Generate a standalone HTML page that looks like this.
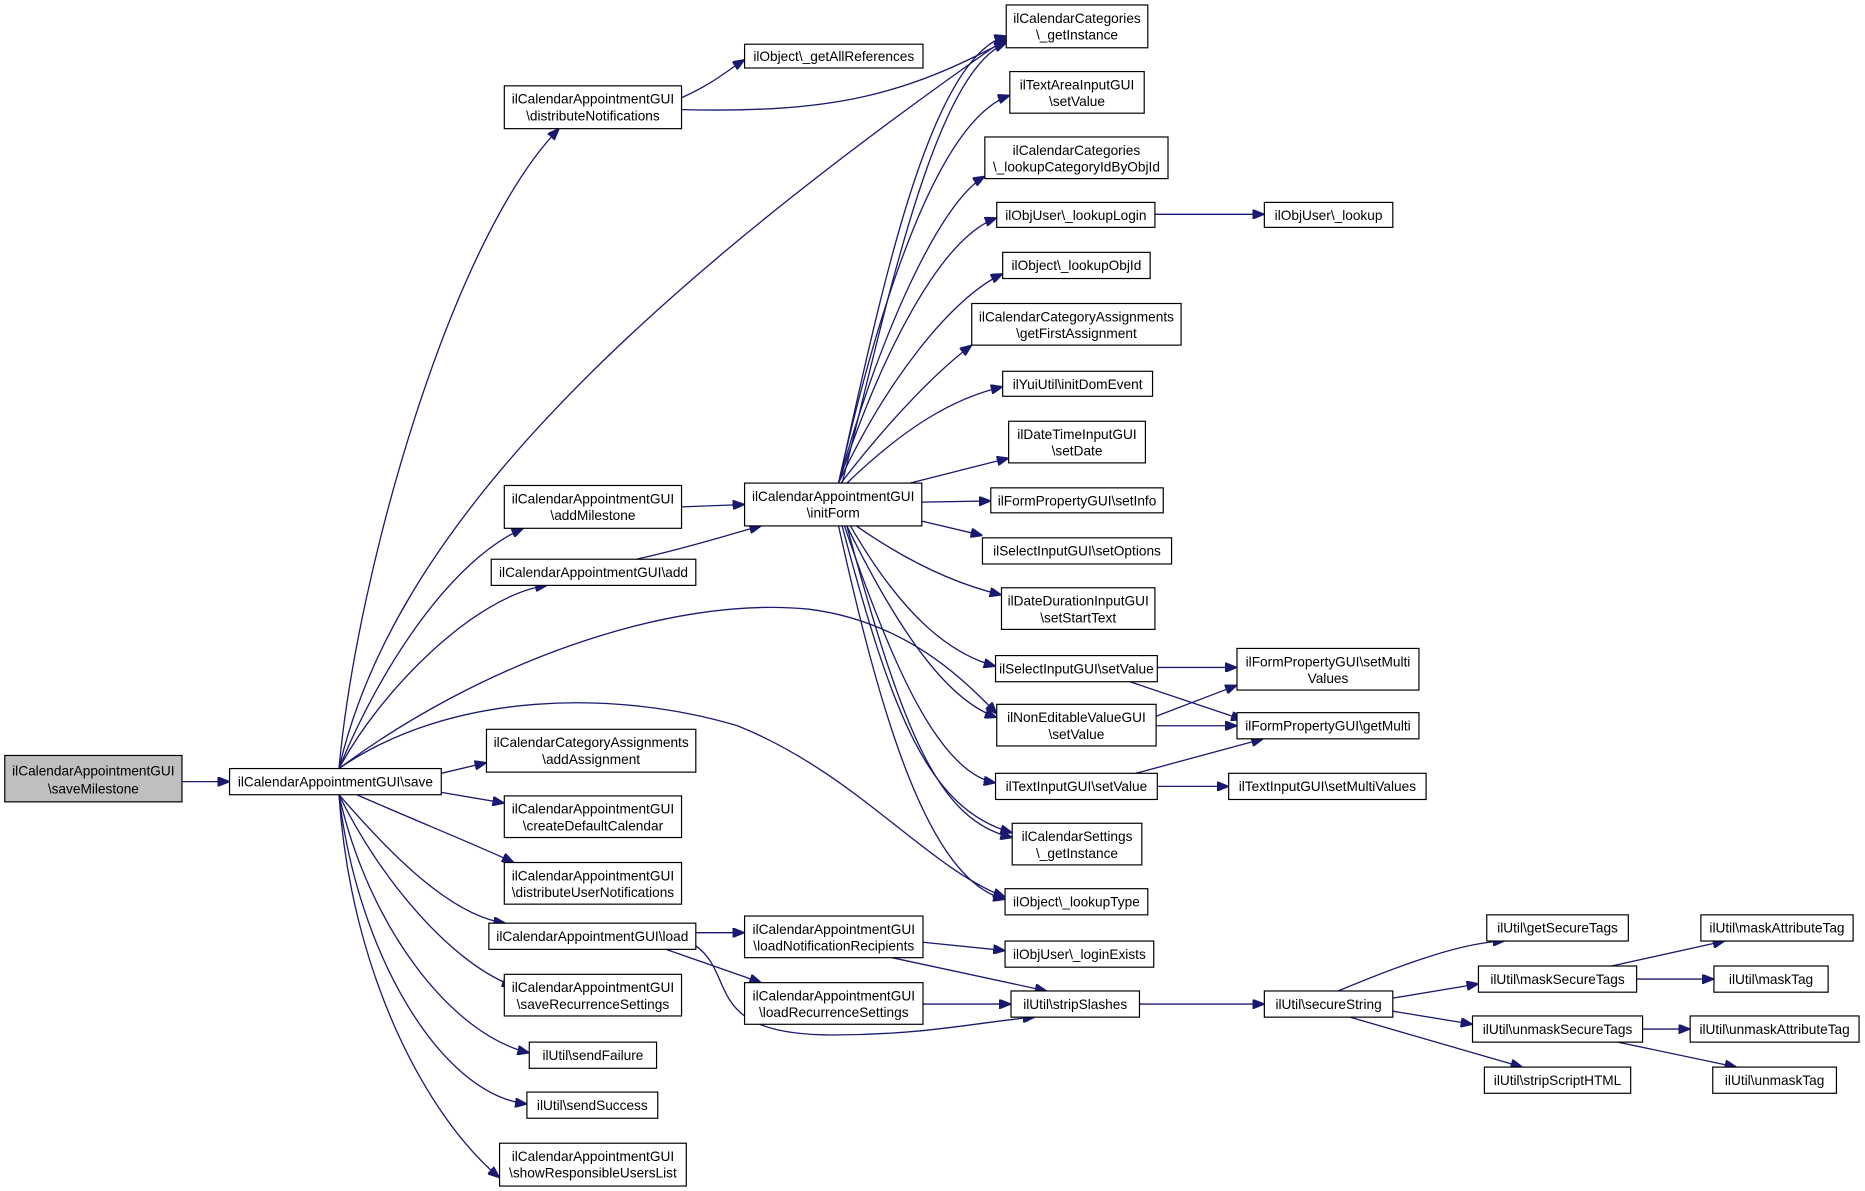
<!DOCTYPE html>
<html><head><meta charset="utf-8"><style>
html,body{margin:0;padding:0;background:#fff;}
svg{display:block}
text{font-family:"Liberation Sans",sans-serif;font-size:11.5px;fill:#000;text-anchor:middle}
rect{fill:#fff;stroke:#000;stroke-width:1}
path{fill:none;stroke:#191970;stroke-width:1.1}
</style></head><body>
<svg width="1865" height="1191" viewBox="0 0 1568 1001" xmlns="http://www.w3.org/2000/svg">
<defs><marker id="a" markerWidth="10" markerHeight="8" refX="10" refY="4" orient="auto" markerUnits="userSpaceOnUse"><path d="M0,0 L10,4 L0,8 Z" style="fill:#191970;stroke:#191970"/></marker></defs>
<g marker-end="url(#a)">
<path d="M153,657 L193,657"/>
<path d="M285,646 C300,480 380,200 470,108"/>
<path d="M285,646 C330,450 520,260 846,32"/>
<path d="M285,646 C320,560 380,470 440,444"/>
<path d="M285,646 C320,580 400,500 460,492"/>
<path d="M285,646 C400,560 560,500 680,512 C760,522 810,570 838,600"/>
<path d="M285,646 C380,580 520,580 620,610 C720,650 780,730 845,754"/>
<path d="M371,650 L409,641"/>
<path d="M371,666 L424,675"/>
<path d="M300,668 C350,690 400,710 432,725"/>
<path d="M285,668 C330,720 380,770 425,776"/>
<path d="M285,668 C320,740 380,810 432,829"/>
<path d="M285,668 C310,780 380,870 445,885"/>
<path d="M285,668 C300,800 370,920 443,928"/>
<path d="M285,668 C295,820 360,940 420,990"/>
<path d="M573,82 C600,70 610,60 626,50"/>
<path d="M573,92 C700,95 760,80 846,34"/>
<path d="M573,426 L626,424"/>
<path d="M535,470 C580,460 610,450 640,442"/>
<path d="M705,406 C740,250 780,50 846,30"/>
<path d="M708,406 C745,260 785,60 846,36"/>
<path d="M705,406 C740,250 790,100 849,80"/>
<path d="M705,406 C740,280 790,170 828,148"/>
<path d="M705,406 C740,300 790,200 838,183"/>
<path d="M705,406 C745,320 800,250 843,230"/>
<path d="M707,406 C750,350 790,310 817,290"/>
<path d="M712,406 C760,360 800,335 843,325"/>
<path d="M765,406 L848,385"/>
<path d="M775,422 L833,421"/>
<path d="M775,438 L826,450"/>
<path d="M720,442 C760,470 800,490 842,500"/>
<path d="M715,442 C760,520 800,550 837,560"/>
<path d="M712,442 C760,540 800,590 838,603"/>
<path d="M710,442 C750,560 790,650 837,658"/>
<path d="M708,442 C750,600 780,680 851,700"/>
<path d="M712,442 C760,620 790,690 851,704"/>
<path d="M705,442 C740,600 780,740 845,756"/>
<path d="M971,180 L1063,180"/>
<path d="M973,561 L1040,561"/>
<path d="M950,573 L1045,605"/>
<path d="M972,602 L1040,576"/>
<path d="M972,610 L1040,610"/>
<path d="M955,650 L1062,621"/>
<path d="M973,661 L1033,661"/>
<path d="M585,784 L626,784"/>
<path d="M560,798 L640,826"/>
<path d="M585,795 C620,820 590,870 700,870 C780,870 830,858 870,855"/>
<path d="M776,792 L845,799"/>
<path d="M750,805 L880,833"/>
<path d="M776,844 L850,844"/>
<path d="M958,844 L1063,844"/>
<path d="M1125,833 C1180,810 1230,792 1265,791"/>
<path d="M1171,839 L1243,827"/>
<path d="M1171,850 L1238,861"/>
<path d="M1135,855 L1280,897"/>
<path d="M1355,812 L1450,791"/>
<path d="M1376,823 L1441,823"/>
<path d="M1381,865 L1421,865"/>
<path d="M1360,876 L1460,897"/>
</g>
<rect x="4" y="635" width="149" height="39" style="fill:#bfbfbf"/><text x="78.5" y="652">ilCalendarAppointmentGUI</text><text x="78.5" y="667">\saveMilestone</text>
<rect x="193" y="646" width="178" height="22"/><text x="282" y="661">ilCalendarAppointmentGUI\save</text>
<rect x="424" y="72" width="149" height="36"/><text x="498.5" y="87">ilCalendarAppointmentGUI</text><text x="498.5" y="101">\distributeNotifications</text>
<rect x="626" y="37" width="150" height="20"/><text x="701" y="51">ilObject\_getAllReferences</text>
<rect x="846" y="4" width="119" height="36"/><text x="905.5" y="19">ilCalendarCategories</text><text x="905.5" y="33">\_getInstance</text>
<rect x="849" y="60" width="113" height="35"/><text x="905.5" y="75">ilTextAreaInputGUI</text><text x="905.5" y="89">\setValue</text>
<rect x="828" y="115" width="154" height="35"/><text x="905" y="130">ilCalendarCategories</text><text x="905" y="144">\_lookupCategoryIdByObjId</text>
<rect x="838" y="170" width="133" height="21"/><text x="904.5" y="185">ilObjUser\_lookupLogin</text>
<rect x="1063" y="170" width="108" height="21"/><text x="1117" y="185">ilObjUser\_lookup</text>
<rect x="843" y="212" width="124" height="22"/><text x="905" y="227">ilObject\_lookupObjId</text>
<rect x="817" y="255" width="176" height="35"/><text x="905" y="270">ilCalendarCategoryAssignments</text><text x="905" y="284">\getFirstAssignment</text>
<rect x="843" y="312" width="126" height="21"/><text x="906" y="327">ilYuiUtil\initDomEvent</text>
<rect x="848" y="354" width="115" height="35"/><text x="905.5" y="369">ilDateTimeInputGUI</text><text x="905.5" y="383">\setDate</text>
<rect x="833" y="410" width="145" height="21"/><text x="905.5" y="425">ilFormPropertyGUI\setInfo</text>
<rect x="826" y="452" width="159" height="22"/><text x="905.5" y="467">ilSelectInputGUI\setOptions</text>
<rect x="842" y="494" width="129" height="35"/><text x="906.5" y="509">ilDateDurationInputGUI</text><text x="906.5" y="523">\setStartText</text>
<rect x="837" y="551" width="136" height="22"/><text x="905" y="566">ilSelectInputGUI\setValue</text>
<rect x="1040" y="545" width="153" height="35"/><text x="1116.5" y="560">ilFormPropertyGUI\setMulti</text><text x="1116.5" y="574">Values</text>
<rect x="838" y="592" width="134" height="35"/><text x="905" y="607">ilNonEditableValueGUI</text><text x="905" y="621">\setValue</text>
<rect x="1040" y="599" width="153" height="22"/><text x="1116.5" y="614">ilFormPropertyGUI\getMulti</text>
<rect x="837" y="650" width="136" height="22"/><text x="905" y="665">ilTextInputGUI\setValue</text>
<rect x="1033" y="650" width="166" height="22"/><text x="1116" y="665">ilTextInputGUI\setMultiValues</text>
<rect x="851" y="692" width="109" height="35"/><text x="905.5" y="707">ilCalendarSettings</text><text x="905.5" y="721">\_getInstance</text>
<rect x="845" y="747" width="120" height="22"/><text x="905" y="762">ilObject\_lookupType</text>
<rect x="424" y="408" width="149" height="36"/><text x="498.5" y="423">ilCalendarAppointmentGUI</text><text x="498.5" y="437">\addMilestone</text>
<rect x="413" y="470" width="172" height="22"/><text x="499" y="485">ilCalendarAppointmentGUI\add</text>
<rect x="626" y="406" width="149" height="36"/><text x="700.5" y="421">ilCalendarAppointmentGUI</text><text x="700.5" y="435">\initForm</text>
<rect x="409" y="613" width="176" height="36"/><text x="497" y="628">ilCalendarCategoryAssignments</text><text x="497" y="642">\addAssignment</text>
<rect x="424" y="669" width="149" height="35"/><text x="498.5" y="684">ilCalendarAppointmentGUI</text><text x="498.5" y="698">\createDefaultCalendar</text>
<rect x="424" y="725" width="149" height="35"/><text x="498.5" y="740">ilCalendarAppointmentGUI</text><text x="498.5" y="754">\distributeUserNotifications</text>
<rect x="411" y="776" width="174" height="22"/><text x="498" y="791">ilCalendarAppointmentGUI\load</text>
<rect x="424" y="819" width="149" height="35"/><text x="498.5" y="834">ilCalendarAppointmentGUI</text><text x="498.5" y="848">\saveRecurrenceSettings</text>
<rect x="445" y="876" width="107" height="22"/><text x="498.5" y="891">ilUtil\sendFailure</text>
<rect x="443" y="918" width="110" height="22"/><text x="498" y="933">ilUtil\sendSuccess</text>
<rect x="420" y="961" width="157" height="36"/><text x="498.5" y="976">ilCalendarAppointmentGUI</text><text x="498.5" y="990">\showResponsibleUsersList</text>
<rect x="626" y="770" width="150" height="35"/><text x="701" y="785">ilCalendarAppointmentGUI</text><text x="701" y="799">\loadNotificationRecipients</text>
<rect x="626" y="826" width="150" height="35"/><text x="701" y="841">ilCalendarAppointmentGUI</text><text x="701" y="855">\loadRecurrenceSettings</text>
<rect x="845" y="791" width="125" height="22"/><text x="907.5" y="806">ilObjUser\_loginExists</text>
<rect x="850" y="833" width="108" height="22"/><text x="904" y="848">ilUtil\stripSlashes</text>
<rect x="1063" y="833" width="108" height="22"/><text x="1117" y="848">ilUtil\secureString</text>
<rect x="1250" y="769" width="119" height="22"/><text x="1309.5" y="784">ilUtil\getSecureTags</text>
<rect x="1243" y="812" width="133" height="22"/><text x="1309.5" y="827">ilUtil\maskSecureTags</text>
<rect x="1238" y="854" width="143" height="22"/><text x="1309.5" y="869">ilUtil\unmaskSecureTags</text>
<rect x="1248" y="897" width="123" height="22"/><text x="1309.5" y="912">ilUtil\stripScriptHTML</text>
<rect x="1430" y="769" width="128" height="22"/><text x="1494" y="784">ilUtil\maskAttributeTag</text>
<rect x="1441" y="812" width="96" height="22"/><text x="1489" y="827">ilUtil\maskTag</text>
<rect x="1421" y="854" width="142" height="22"/><text x="1492" y="869">ilUtil\unmaskAttributeTag</text>
<rect x="1440" y="897" width="104" height="22"/><text x="1492" y="912">ilUtil\unmaskTag</text>
</svg>
</body></html>
